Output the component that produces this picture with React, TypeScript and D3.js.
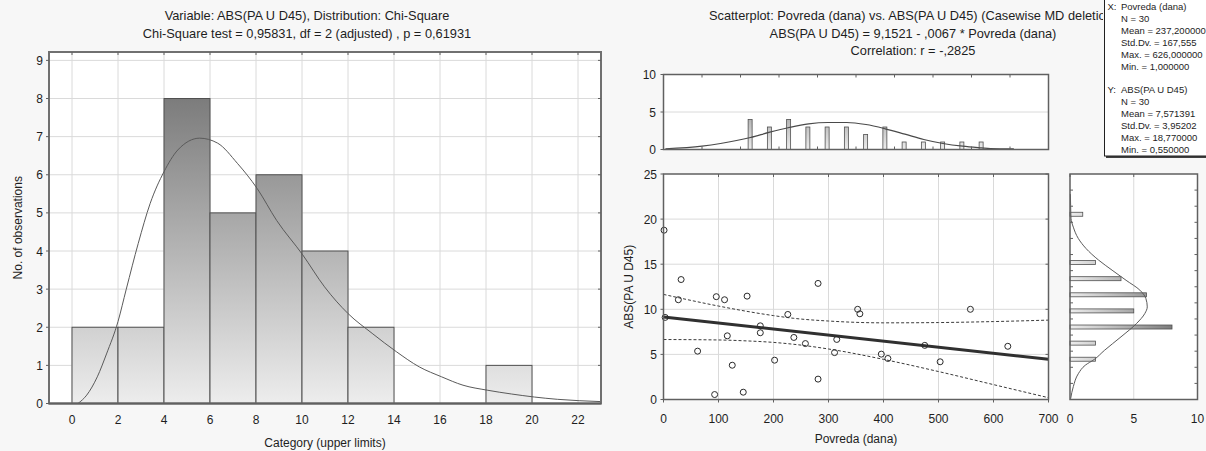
import React, { useEffect, useRef } from 'react';
import * as d3 from 'd3';

// left histogram: category upper limits and counts
const categoryUpper = [2, 4, 6, 8, 10, 12, 14, 16, 18, 20];
const categoryCounts = [2, 2, 8, 5, 6, 4, 2, 0, 0, 1];
const categoryTicks = [0, 2, 4, 6, 8, 10, 12, 14, 16, 18, 20, 22];
const countTicks = [0, 1, 2, 3, 4, 5, 6, 7, 8, 9];
// fitted chi-square curve
const chiFitX = [0.26, 0.64, 1.1, 1.5, 2.0, 2.36, 2.88, 3.4, 4.0, 4.6, 5.55, 6.33, 7.19, 8.05, 8.9, 10.03, 10.98, 12, 13.05, 14.1, 15.1, 16.07, 17, 18.05, 19.1, 20.1, 21.1, 23];
const chiFitY = [0, 0.22, 0.7, 1.3, 2.15, 3.0, 4.2, 5.25, 6.08, 6.65, 6.96, 6.83, 6.3, 5.64, 4.8, 3.9, 3.06, 2.36, 1.84, 1.36, 0.96, 0.7, 0.48, 0.35, 0.25, 0.17, 0.11, 0.05];

// scatterplot
const povreda = [1, 3, 27, 32, 62, 93, 96, 111, 116, 125, 145, 152, 176, 176, 202, 226, 237, 258, 281, 281, 311, 315, 353, 357, 396, 408, 475, 503, 558, 626];
const absPa = [18.77, 9.1, 11.06, 13.3, 5.36, 0.55, 11.4, 11.06, 7.06, 3.8, 0.81, 11.46, 8.17, 7.4, 4.36, 9.43, 6.88, 6.2, 12.87, 2.26, 5.2, 6.66, 10.0, 9.5, 5.03, 4.55, 6.0, 4.18, 10.0, 5.9];
const regIntercept = 9.1521;
const regSlope = -0.0067;
const bandX = [0, 100, 150, 200, 237, 300, 400, 500, 600, 700];
const bandUpper = [11.65, 10.36, 9.79, 9.3, 9.0, 8.7, 8.5, 8.53, 8.64, 8.8];
const bandLower = [6.65, 6.6, 6.5, 6.33, 6.12, 5.6, 4.45, 3.1, 1.65, 0.2];
const povredaTicks = [0, 100, 200, 300, 400, 500, 600, 700];
const absTicks = [0, 5, 10, 15, 20, 25];

// marginal histogram of Povreda (top)
const topBinMid = [25, 75, 125, 175, 225, 275, 325, 375, 425, 475, 525, 575, 625];
const topBinCounts = [4, 3, 4, 3, 3, 3, 2, 3, 1, 1, 1, 1, 1];
const topFitX = [-195, -100, -52, 26, 76, 126, 177, 227, 276, 326, 376, 427, 476, 526, 577, 626, 649, 710];
const topFitY = [0.1, 0.45, 0.8, 1.6, 2.31, 2.93, 3.42, 3.6, 3.6, 3.33, 2.76, 2.04, 1.33, 0.8, 0.44, 0.22, 0.13, 0.09];
const topTicks = [-100, 0, 100, 200, 300, 400, 500, 600, 700];

// marginal histogram of ABS(PA U D45) (right)
const sideBinMid = [19, 17, 15, 13, 11, 9, 7, 5, 3, 1];
const sideBinCounts = [1, 0, 0, 2, 4, 6, 5, 8, 2, 2];
const sideFitY = [-3.9, -2.4, -0.8, 0.26, 0.97, 2.1, 3.78, 5.44, 6.68, 7.5, 8.54, 9.58, 10.8, 12.06, 13.3, 14.76, 16, 17.4, 18.5, 20.1, 21.5];
const sideFitV = [0.05, 0.26, 0.65, 1.2, 1.9, 2.7, 4.0, 5.22, 5.87, 6.06, 5.95, 5.48, 4.4, 3.3, 2.25, 1.25, 0.65, 0.26, 0.08, 0.05, 0.03];
const sideTicks = [-2, 0, 2, 4, 6, 8, 10, 12, 14, 16, 18, 20, 22];

const leftTitle = ['Variable: ABS(PA U D45), Distribution: Chi-Square', 'Chi-Square test = 0,95831, df = 2 (adjusted) , p = 0,61931'];
const rightTitle = ['Scatterplot: Povreda (dana) vs. ABS(PA U D45) (Casewise MD deletion)', 'ABS(PA U D45) = 9,1521 - ,0067  * Povreda (dana)', 'Correlation: r = -,2825'];
const statsHeads = ['X:', 'Y:'];
const statsX = ['Povreda (dana)', 'N = 30', 'Mean = 237,200000', 'Std.Dv. = 167,555', 'Max. = 626,000000', 'Min. = 1,000000'];
const statsY = ['ABS(PA U D45)', 'N = 30', 'Mean = 7,571391', 'Std.Dv. = 3,95202', 'Max. = 18,770000', 'Min. = 0,550000'];

const FONT = "'Liberation Sans', Arial, sans-serif";
const GRID = '#dadada';
const FRAME = '#606060';

const App: React.FC = () => {
  const ref = useRef<SVGSVGElement>(null);

  useEffect(() => {
    if (!ref.current) return;
    const svg = d3.select(ref.current);
    svg.selectAll('*').remove();
    svg.append('rect').attr('width', 1206).attr('height', 451).attr('fill', '#f7f7f7');

    const defs = svg.append('defs');
    const grad = (id: string, x1: number, y1: number, x2: number, y2: number) => {
      const g = defs
        .append('linearGradient')
        .attr('id', id)
        .attr('gradientUnits', 'userSpaceOnUse')
        .attr('x1', x1)
        .attr('y1', y1)
        .attr('x2', x2)
        .attr('y2', y2);
      g.append('stop').attr('offset', 0).attr('stop-color', '#ededed');
      g.append('stop').attr('offset', 1).attr('stop-color', '#7c7c7c');
    };
    // the stats box hides the end of the scatterplot title
    defs.append('clipPath').attr('id', 'titleClip').append('rect').attr('x', 600).attr('y', 0).attr('width', 503).attr('height', 70);

    const text = (x: number, y: number, s: string, anchor = 'middle', size = 12) =>
      svg
        .append('text')
        .attr('x', x)
        .attr('y', y)
        .attr('text-anchor', anchor)
        .attr('font-family', FONT)
        .attr('font-size', size)
        .attr('fill', '#1e1e1e')
        .text(s);

    // ---------------- left histogram ----------------
    const xL = d3.scaleLinear().domain([-1, 23]).range([49, 601]);
    const yL = d3.scaleLinear().domain([0, 9.22]).range([403.5, 52]);
    grad('gL', 0, yL(0), 0, yL(8));

    const gl = svg.append('g');
    gl.append('rect')
      .attr('x', xL(-1))
      .attr('y', yL(9.22))
      .attr('width', xL(23) - xL(-1))
      .attr('height', yL(0) - yL(9.22))
      .attr('fill', '#fff');
    gl.selectAll('.vg')
      .data(categoryTicks)
      .enter()
      .append('line')
      .attr('x1', (d) => xL(d))
      .attr('x2', (d) => xL(d))
      .attr('y1', yL(0))
      .attr('y2', yL(9.22))
      .attr('stroke', GRID);
    gl.selectAll('.hg')
      .data(countTicks.slice(1))
      .enter()
      .append('line')
      .attr('x1', xL(-1))
      .attr('x2', xL(23))
      .attr('y1', (d) => yL(d))
      .attr('y2', (d) => yL(d))
      .attr('stroke', GRID);

    gl.selectAll('.bar')
      .data(categoryCounts.map((c, i) => ({ c, hi: categoryUpper[i] })).filter((d) => d.c > 0))
      .enter()
      .append('rect')
      .attr('x', (d) => xL(d.hi - 2))
      .attr('y', (d) => yL(d.c))
      .attr('width', xL(2) - xL(0))
      .attr('height', (d) => yL(0) - yL(d.c))
      .attr('fill', 'url(#gL)')
      .attr('stroke', '#505050')
      .attr('stroke-width', 1);

    const chiLine = d3
      .line<number>()
      .x((_, i) => xL(chiFitX[i]))
      .y((d) => yL(d))
      .curve(d3.curveMonotoneX);
    gl.append('path')
      .attr('d', chiLine(chiFitY))
      .attr('fill', 'none')
      .attr('stroke', '#5a5a5a')
      .attr('stroke-width', 1);

    // frame + ticks
    gl.append('rect')
      .attr('x', xL(-1))
      .attr('y', yL(9.22))
      .attr('width', xL(23) - xL(-1))
      .attr('height', yL(0) - yL(9.22))
      .attr('fill', 'none')
      .attr('stroke', '#707070')
      .attr('stroke-width', 2);
    gl.append('line')
      .attr('x1', xL(-1))
      .attr('x2', xL(23))
      .attr('y1', yL(0))
      .attr('y2', yL(0))
      .attr('stroke', FRAME)
      .attr('stroke-width', 2);
    countTicks.forEach((t) => {
      gl.append('line').attr('x1', xL(-1) - 3).attr('x2', xL(-1)).attr('y1', yL(t)).attr('y2', yL(t)).attr('stroke', FRAME);
      gl.append('line').attr('x1', xL(23) - 3).attr('x2', xL(23)).attr('y1', yL(t)).attr('y2', yL(t)).attr('stroke', FRAME);
      text(43, yL(t) + 4.5, String(t), 'end');
    });
    categoryTicks.forEach((t) => {
      gl.append('line').attr('x1', xL(t)).attr('x2', xL(t)).attr('y1', yL(9.22)).attr('y2', yL(9.22) + 3).attr('stroke', FRAME);
      text(xL(t), 423.5, String(t));
    });
    text(325, 447, 'Category (upper limits)');
    text(0, 0, 'No. of observations').attr('transform', `translate(21.5,${(yL(0) + yL(9.22)) / 2}) rotate(-90)`);
    leftTitle.forEach((s, i) => text(307, 20 + i * 17.6, s, 'middle', 12.8));

    // ---------------- scatterplot ----------------
    const xS = d3.scaleLinear().domain([0, 700]).range([663.5, 1048.5]);
    const yS = d3.scaleLinear().domain([0, 25]).range([399.5, 174]);
    const gs = svg.append('g');
    gs.append('rect')
      .attr('x', xS(0))
      .attr('y', yS(25))
      .attr('width', xS(700) - xS(0))
      .attr('height', yS(0) - yS(25))
      .attr('fill', '#fff');
    gs.selectAll('.vg')
      .data(povredaTicks.slice(1, -1))
      .enter()
      .append('line')
      .attr('x1', (d) => xS(d))
      .attr('x2', (d) => xS(d))
      .attr('y1', yS(0))
      .attr('y2', yS(25))
      .attr('stroke', GRID);
    gs.selectAll('.hg')
      .data(absTicks.slice(1, -1))
      .enter()
      .append('line')
      .attr('x1', xS(0))
      .attr('x2', xS(700))
      .attr('y1', (d) => yS(d))
      .attr('y2', (d) => yS(d))
      .attr('stroke', GRID);

    const band = d3
      .line<number>()
      .x((_, i) => xS(bandX[i]))
      .y((d) => yS(d))
      .curve(d3.curveMonotoneX);
    [bandUpper, bandLower].forEach((b) =>
      gs.append('path')
        .attr('d', band(b))
        .attr('fill', 'none')
        .attr('stroke', '#3a3a3a')
        .attr('stroke-width', 1)
        .attr('stroke-dasharray', '3,2')
    );
    gs.append('line')
      .attr('x1', xS(0))
      .attr('y1', yS(regIntercept))
      .attr('x2', xS(700))
      .attr('y2', yS(regIntercept + regSlope * 700))
      .attr('stroke', '#303030')
      .attr('stroke-width', 3);

    gs.selectAll('circle')
      .data(povreda.map((x, i) => ({ x, y: absPa[i] })))
      .enter()
      .append('circle')
      .attr('cx', (d) => xS(d.x))
      .attr('cy', (d) => yS(d.y))
      .attr('r', 3)
      .attr('fill', 'none')
      .attr('stroke', '#2a2a2a')
      .attr('stroke-width', 1);

    gs.append('rect')
      .attr('x', xS(0))
      .attr('y', yS(25))
      .attr('width', xS(700) - xS(0))
      .attr('height', yS(0) - yS(25))
      .attr('fill', 'none')
      .attr('stroke', FRAME)
      .attr('stroke-width', 1.5);
    absTicks.forEach((t) => {
      gs.append('line').attr('x1', xS(0) - 3).attr('x2', xS(0)).attr('y1', yS(t)).attr('y2', yS(t)).attr('stroke', FRAME);
      gs.append('line').attr('x1', xS(700) - 3).attr('x2', xS(700)).attr('y1', yS(t)).attr('y2', yS(t)).attr('stroke', FRAME);
      text(657, yS(t) + 4.5, String(t), 'end');
    });
    povredaTicks.forEach((t) => {
      gs.append('line').attr('x1', xS(t)).attr('x2', xS(t)).attr('y1', yS(0)).attr('y2', yS(0) + 3).attr('stroke', FRAME);
      gs.append('line').attr('x1', xS(t)).attr('x2', xS(t)).attr('y1', yS(25)).attr('y2', yS(25) + 3).attr('stroke', FRAME);
      text(xS(t), 423, String(t));
    });
    text((xS(0) + xS(700)) / 2, 442.5, 'Povreda (dana)');
    text(0, 0, 'ABS(PA U D45)').attr('transform', `translate(632.5,${(yS(0) + yS(25)) / 2}) rotate(-90)`);
    rightTitle.forEach((s, i) => {
      const t = text(913, 20 + i * 17.6, s, 'middle', 12.8);
      if (i === 0) t.attr('clip-path', 'url(#titleClip)');
    });

    // ---------------- top marginal histogram ----------------
    const xT = d3.scaleLinear().domain([-200, 800]).range([663.5, 1048.5]);
    const yT = d3.scaleLinear().domain([0, 10]).range([149.5, 74.5]);
    grad('gT', 0, yT(0), 0, yT(8));
    const gt = svg.append('g');
    gt.append('rect')
      .attr('x', xT(-200))
      .attr('y', yT(10))
      .attr('width', xT(800) - xT(-200))
      .attr('height', yT(0) - yT(10))
      .attr('fill', '#fff');
    gt.append('line').attr('x1', xT(-200)).attr('x2', xT(800)).attr('y1', yT(5)).attr('y2', yT(5)).attr('stroke', GRID);
    gt.selectAll('.bar')
      .data(topBinCounts.map((c, i) => ({ c, m: topBinMid[i] })))
      .enter()
      .append('rect')
      .attr('x', (d) => xT(d.m) - 2)
      .attr('y', (d) => yT(d.c))
      .attr('width', 4)
      .attr('height', (d) => yT(0) - yT(d.c))
      .attr('fill', 'url(#gT)')
      .attr('stroke', '#505050')
      .attr('stroke-width', 0.8);
    const topLine = d3
      .line<number>()
      .x((_, i) => xT(topFitX[i]))
      .y((d) => yT(d))
      .curve(d3.curveMonotoneX);
    gt.append('path').attr('d', topLine(topFitY)).attr('fill', 'none').attr('stroke', '#4a4a4a').attr('stroke-width', 1.2);
    gt.append('rect')
      .attr('x', xT(-200))
      .attr('y', yT(10))
      .attr('width', xT(800) - xT(-200))
      .attr('height', yT(0) - yT(10))
      .attr('fill', 'none')
      .attr('stroke', FRAME)
      .attr('stroke-width', 1.5);
    topTicks.forEach((t) => {
      gt.append('line').attr('x1', xT(t)).attr('x2', xT(t)).attr('y1', yT(10)).attr('y2', yT(10) + 3).attr('stroke', FRAME);
      gt.append('line').attr('x1', xT(t)).attr('x2', xT(t)).attr('y1', yT(0)).attr('y2', yT(0) - 3).attr('stroke', FRAME);
    });
    [0, 5, 10].forEach((t) => {
      gt.append('line').attr('x1', xT(-200) - 3).attr('x2', xT(-200)).attr('y1', yT(t)).attr('y2', yT(t)).attr('stroke', FRAME);
      text(656, yT(t) + 4.5, String(t), 'end');
    });

    // ---------------- right marginal histogram ----------------
    const xR = d3.scaleLinear().domain([0, 10]).range([1070, 1197.5]);
    const yR = d3.scaleLinear().domain([-4, 24]).range([399.5, 174]);
    grad('gR', xR(0), 0, xR(8), 0);
    const gr = svg.append('g');
    gr.append('rect')
      .attr('x', xR(0))
      .attr('y', yR(24))
      .attr('width', xR(10) - xR(0))
      .attr('height', yR(-4) - yR(24))
      .attr('fill', '#fff');
    gr.append('line').attr('x1', xR(5)).attr('x2', xR(5)).attr('y1', yR(-4)).attr('y2', yR(24)).attr('stroke', GRID);
    gr.selectAll('.bar')
      .data(sideBinCounts.map((c, i) => ({ c, m: sideBinMid[i] })).filter((d) => d.c > 0))
      .enter()
      .append('rect')
      .attr('x', xR(0))
      .attr('y', (d) => yR(d.m) - 2)
      .attr('width', (d) => xR(d.c) - xR(0))
      .attr('height', 4)
      .attr('fill', 'url(#gR)')
      .attr('stroke', '#505050')
      .attr('stroke-width', 0.8);
    const sideLine = d3
      .line<number>()
      .x((d) => xR(d))
      .y((_, i) => yR(sideFitY[i]))
      .curve(d3.curveMonotoneY);
    gr.append('path').attr('d', sideLine(sideFitV)).attr('fill', 'none').attr('stroke', '#5a5a5a').attr('stroke-width', 1);
    gr.append('rect')
      .attr('x', xR(0))
      .attr('y', yR(24))
      .attr('width', xR(10) - xR(0))
      .attr('height', yR(-4) - yR(24))
      .attr('fill', 'none')
      .attr('stroke', FRAME)
      .attr('stroke-width', 1.5);
    sideTicks.forEach((t) => {
      gr.append('line').attr('x1', xR(10) - 3).attr('x2', xR(10)).attr('y1', yR(t)).attr('y2', yR(t)).attr('stroke', FRAME);
      gr.append('line').attr('x1', xR(0)).attr('x2', xR(0) + 3).attr('y1', yR(t)).attr('y2', yR(t)).attr('stroke', FRAME);
    });
    [0, 5, 10].forEach((t) => {
      gr.append('line').attr('x1', xR(t)).attr('x2', xR(t)).attr('y1', yR(24)).attr('y2', yR(24) + 3).attr('stroke', FRAME);
      text(xR(t), 423, String(t));
    });

    // ---------------- stats box ----------------
    const gb = svg.append('g');
    gb.append('rect').attr('x', 1106).attr('y', 1).attr('width', 110).attr('height', 157).attr('fill', '#404040');
    gb.append('rect').attr('x', 1104.5).attr('y', -1).attr('width', 110).attr('height', 157).attr('fill', '#fff').attr('stroke', '#202020');
    [statsX, statsY].forEach((block, b) => {
      const y0 = b === 0 ? 10 : 93;
      text(1107.5, y0, statsHeads[b], 'start', 9.5);
      block.forEach((s, i) => text(1121, y0 + i * 12, s, 'start', 9.5));
    });
  }, []);

  return (
    <svg
      ref={ref}
      width={1206}
      height={451}
      style={{ position: 'absolute', left: 0, top: 0, display: 'block' }}
    ></svg>
  );
};

export default App;
